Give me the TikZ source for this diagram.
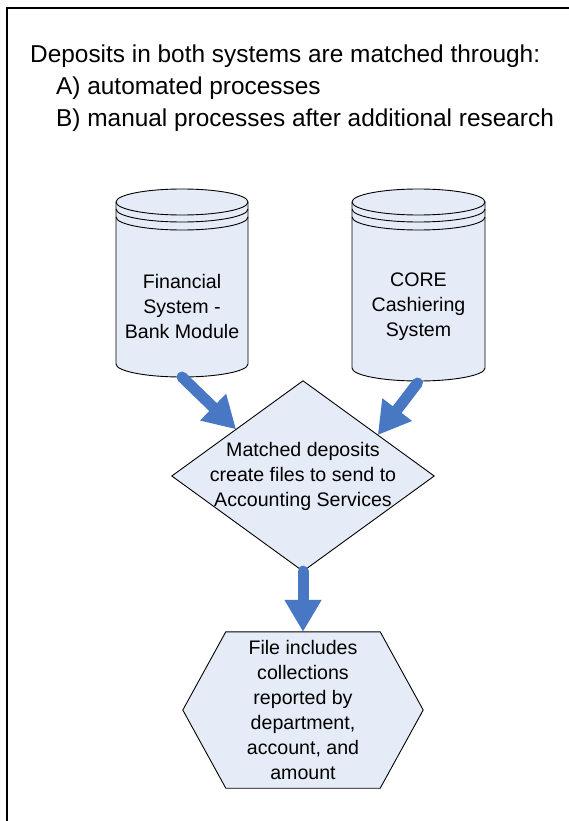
\documentclass[tikz,border=0pt]{standalone}
\usepackage{fontspec}
\setmainfont{Liberation Sans}
\usetikzlibrary{arrows.meta,calc,backgrounds}
\definecolor{boxfill}{RGB}{230,236,247}
\definecolor{arrowblue}{RGB}{72,119,196}
% #1 node, #2 x radius, #3 top-ellipse centre offset, #4 bottom-ellipse centre offset
\newcommand{\drawcyl}[4]{%
  \path[shapeline] ($(#1)+(-#2,#3)$) -- ($(#1)+(-#2,#4)$)
    arc[start angle=180,end angle=360,x radius=#2,y radius=13]
    -- ($(#1)+(#2,#3)$)
    arc[start angle=0,end angle=180,x radius=#2,y radius=13] -- cycle;
  \draw[ring] ($(#1)+(-#2,#3)$) arc[start angle=180,end angle=360,x radius=#2,y radius=13];
  \draw[ring] ($(#1)+(-#2,#3-7)$) arc[start angle=180,end angle=360,x radius=#2,y radius=13];
  \draw[ring] ($(#1)+(-#2,#3-15)$) arc[start angle=180,end angle=360,x radius=#2,y radius=13];
}
\begin{document}
\begin{tikzpicture}[x=1pt,y=1pt,
  shapeline/.style={draw=black, line width=0.9pt, fill=boxfill},
  ring/.style={draw=black, line width=0.9pt},
  titletext/.style={font=\fontsize{24.4}{31.5}\selectfont, inner sep=0pt, anchor=base west},
  nodetext/.style={font=\fontsize{19.6}{25}\selectfont, align=center, inner sep=0pt},
  bigarrow/.style={draw=arrowblue, line width=11pt, line cap=round,
    -{Triangle[length=32pt,width=35pt]}}
]
\useasboundingbox (0,0) rectangle (569,-821);
\draw[line width=2pt] (7,-821) -- (7,-8) -- (569,-8);

\node[titletext] (title) at (30,-63) {Deposits in both systems are matched through:};
\node[titletext] (itemA) at (56,-95) {A) automated processes};
\node[titletext] (itemB) at (56,-126.5) {B) manual processes after additional research};

\node[nodetext] (cylL) at (182,-306) {Financial\\System -\\Bank Module};
\node[nodetext] (cylR) at (418.5,-307) {CORE\\Cashiering\\System};
\node[nodetext, minimum width=262pt, minimum height=190pt] (dia) at (303,-476)
  {Matched deposits\\create files to send to\\Accounting Services};
\node[nodetext, minimum width=240pt, minimum height=156pt] (hex) at (303,-710)
  {File includes\\collections\\reported by\\department,\\account, and\\amount};

\begin{scope}[on background layer]
  \drawcyl{cylL}{66}{104}{-58}
  \drawcyl{cylR}{66.5}{105}{-61}
  \path[shapeline] (dia.north) -- (dia.east) -- (dia.south) -- (dia.west) -- cycle;
  \path[shapeline] (hex.west) -- ($(hex.north west)+(43,0)$) -- ($(hex.north east)+(-43,0)$)
    -- (hex.east) -- ($(hex.south east)+(-43,0)$) -- ($(hex.south west)+(43,0)$) -- cycle;
\end{scope}

\coordinate (cylLbot) at ($(cylL)+(0,-71)$);
\coordinate (cylRbot) at ($(cylR)+(-1,-76)$);
\coordinate (diaL) at ($(dia.north)!0.51!(dia.west)$);
\coordinate (diaR) at ($(dia.north)!0.57!(dia.east)$);

\draw[bigarrow] (cylLbot) -- (diaL);
\draw[bigarrow] (cylRbot) -- (diaR);
\draw[bigarrow] (dia.south) -- (hex.north);
\end{tikzpicture}
\end{document}
